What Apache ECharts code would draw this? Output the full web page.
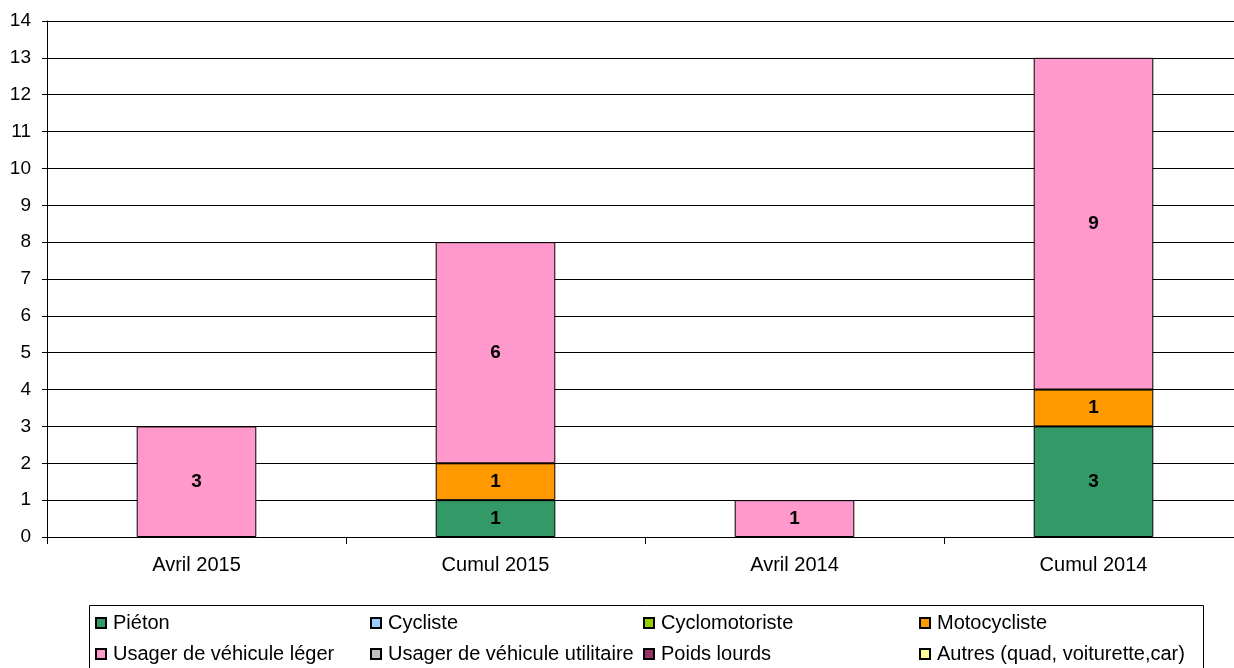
<!DOCTYPE html>
<html><head><meta charset="utf-8">
<script src="https://cdn.jsdelivr.net/npm/echarts@6/dist/echarts.min.js"></script>
<style>html,body{margin:0;padding:0;background:#fff;overflow:hidden}#c{width:1244px;height:668px}</style>
</head><body><div id="c"></div>
<script>
const categories = ['Avril 2015', 'Cumul 2015', 'Avril 2014', 'Cumul 2014'];
const seriesNames = ['Piéton', 'Cycliste', 'Cyclomotoriste', 'Motocycliste',
  'Usager de véhicule léger', 'Usager de véhicule utilitaire', 'Poids lourds', 'Autres (quad, voiturette,car)'];
const pieton = [0, 1, 0, 3];
const cycliste = [0, 0, 0, 0];
const cyclomotoriste = [0, 0, 0, 0];
const motocycliste = [0, 1, 0, 1];
const vehiculeLeger = [3, 6, 1, 9];
const vehiculeUtilitaire = [0, 0, 0, 0];
const poidsLourds = [0, 0, 0, 0];
const autres = [0, 0, 0, 0];
const yTicks = [0, 14, 1];
const colors = ['#339966', '#99CCFF', '#99CC00', '#FF9900', '#FF99CC', '#C0C0C0', '#993366', '#FFFF99'];
const values = [pieton, cycliste, cyclomotoriste, motocycliste, vehiculeLeger, vehiculeUtilitaire, poidsLourds, autres];

const font = 'Liberation Sans, Arial, sans-serif';
const series = seriesNames.map((n, i) => ({
  name: n, type: 'bar', stack: 'total', barWidth: '40%',
  data: values[i].map(v => v === 0 ? '-' : v),
  itemStyle: { color: colors[i], borderColor: '#000', borderWidth: 1 },
  label: { show: true, position: 'inside', color: '#000', fontWeight: 'bold', fontSize: 19, fontFamily: font },
  emphasis: { disabled: true }
}));

const cols = [[0, 4], [1, 5], [2, 6], [3, 7]];
const colLeft = [95, 370, 643, 919];
const legends = cols.map((c, k) => ({
  orient: 'vertical', left: colLeft[k], top: 612, padding: 0,
  data: c.map(i => seriesNames[i]),
  icon: 'rect', itemWidth: 10, itemHeight: 10, itemGap: 9,
  textStyle: { fontSize: 20, fontFamily: font, color: '#000', lineHeight: 22, padding: [0, 0, 0, 2] },
  selectedMode: false
}));

const chart = echarts.init(document.getElementById('c'), null, { renderer: 'canvas' });
chart.setOption({
  animation: false,
  backgroundColor: '#fff',
  color: colors,
  grid: { left: 47, top: 21, width: 1196, bottom: 131, containLabel: false },
  legend: legends,
  xAxis: {
    type: 'category', data: categories,
    axisLine: { lineStyle: { color: '#000', width: 1 } },
    axisTick: { show: true, length: 7, lineStyle: { color: '#000' } },
    axisLabel: { fontSize: 20, fontFamily: font, color: '#000', margin: 18 }
  },
  yAxis: {
    type: 'value', min: yTicks[0], max: yTicks[1], interval: yTicks[2],
    axisLine: { show: true, lineStyle: { color: '#000', width: 1 } },
    axisTick: { show: true, length: 5, lineStyle: { color: '#000' } },
    axisLabel: { fontSize: 19, fontFamily: font, color: '#000', margin: 16 },
    splitLine: { lineStyle: { color: '#000', width: 1 } }
  },
  graphic: [{
    type: 'rect', left: 87, top: 603, shape: { width: 1114, height: 80 },
    style: { fill: 'none', stroke: '#000', lineWidth: 1 }, z: 100, silent: true
  }],
  series: series
});
</script></body></html>
